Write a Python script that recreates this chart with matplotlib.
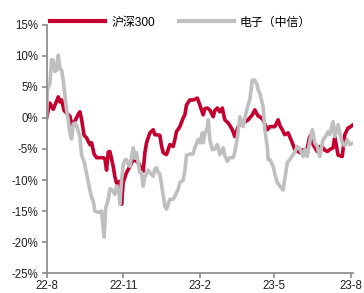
# 沪深300 与 电子（中信）累计涨跌幅走势
import datetime as dt

import matplotlib
matplotlib.use("Agg")
import matplotlib.pyplot as plt
import matplotlib.dates as mdates
from matplotlib.ticker import FuncFormatter, MultipleLocator

START = dt.date(2022, 8, 1)

# 沪深300：距 2022-08-01 的天数 与 累计涨跌幅（%）
hs300_days = [0, 4, 8, 14, 16, 18, 21, 24, 28, 30, 34, 38, 40, 42, 45, 48, 52, 54, 57, 60,
              64, 68, 70, 72, 74, 76, 80, 82, 84, 88, 90, 92, 96, 100, 104, 107, 110, 113,
              116, 118, 120, 124, 128, 130, 132, 136, 138, 140, 144, 148, 152, 154, 156,
              160, 164, 166, 168, 172, 176, 181, 184, 188, 190, 193, 196, 200, 202, 205,
              208, 211, 214, 218, 220, 223, 226, 230, 232, 236, 242, 247, 250, 254, 256,
              260, 265, 268, 274, 278, 280, 283, 286, 290, 295, 298, 302, 304, 308, 310,
              313, 316, 319, 320, 325, 328, 332, 334, 337, 340, 344, 346, 350, 355, 358,
              362, 364, 368]
hs300_vals = [0, 2.4, 1.4, 3.4, 2.6, 2.9, 1.2, 0.8, 0.3, -1.0, -0.5, 0.6, 1.0, -0.2, -2.8,
              -3.2, -4.3, -4.0, -5.8, -6.4, -6.4, -6.4, -6.6, -8.4, -5.5, -5.4, -7.8, -9.5,
              -10.5, -10.2, -13.9, -10.4, -8.8, -7.8, -6.7, -6.9, -7.2, -8.0, -8.6, -5.6,
              -4.0, -2.4, -1.9, -2.7, -2.7, -2.8, -4.5, -5.6, -5.9, -4.3, -4.6, -3.5, -2.2,
              -1.4, 0.0, 0.5, 2.1, 2.9, 2.9, 3.2, 2.1, 0.5, 1.5, 1.6, 1.3, 0.2, 1.2, 1.6,
              1.0, 1.6, -0.3, -0.8, -1.2, -1.9, -3.0, -1.4, -1.0, -0.8, -0.3, 0.5, 1.3,
              0.3, 0.2, -0.3, -1.9, -1.4, -1.4, -0.3, -1.2, -1.9, -2.7, -2.4, -4.0, -5.1,
              -5.4, -5.6, -5.1, -5.3, -4.8, -3.0, -2.5, -4.3, -5.4, -4.6, -4.8, -5.2, -5.4,
              -5.1, -4.8, -3.0, -6.0, -6.2, -2.7, -1.6, -1.5, -1.1]

# 电子（中信）
elec_days = [0, 1, 4, 6, 8, 10, 12, 14, 16, 18, 20, 22, 24, 26, 28, 30, 32, 34, 36, 40,
             42, 45, 48, 52, 54, 56, 58, 62, 64, 66, 69, 71, 74, 76, 78, 82, 84, 87, 88,
             90, 92, 94, 96, 98, 100, 104, 106, 108, 112, 114, 116, 118, 122, 124, 128,
             130, 132, 134, 136, 140, 142, 144, 148, 152, 154, 158, 160, 164, 166, 168,
             172, 176, 178, 182, 184, 187, 188, 190, 193, 194, 196, 199, 202, 205, 208,
             212, 214, 217, 220, 224, 226, 229, 232, 236, 238, 241, 244, 247, 250, 253,
             254, 256, 260, 262, 265, 266, 268, 272, 274, 277, 280, 284, 286, 289, 292,
             296, 298, 301, 304, 308, 310, 313, 316, 319, 320, 322, 325, 328, 332, 334,
             338, 340, 344, 346, 350, 352, 355, 358, 361, 364, 368]
elec_vals = [0, 4.5, 5.6, 9.4, 9.3, 7.5, 7.7, 10.1, 8.0, 7.7, 6.0, 3.6, 1.3, -0.3, -2.4,
             -3.4, -1.0, -0.8, -1.2, -3.0, -6.0, -7.0, -9.0, -11.6, -12.8, -13.4, -15.0,
             -15.2, -15.2, -15.0, -19.2, -14.5, -13.1, -11.4, -11.5, -12.3, -11.0, -12.0,
             -13.9, -10.0, -7.5, -6.8, -6.7, -7.5, -7.8, -4.8, -6.5, -5.6, -8.8, -8.8,
             -11.0, -9.5, -8.4, -8.8, -9.4, -8.2, -8.0, -8.8, -9.0, -12.5, -14.2, -14.7,
             -13.1, -13.1, -12.6, -11.5, -10.4, -10.0, -8.5, -6.0, -5.8, -5.8, -4.8, -3.5,
             -4.0, -2.4, -4.0, -2.5, -1.6, -0.3, -3.5, -5.1, -5.0, -4.3, -5.9, -4.8, -6.0,
             -7.0, -6.4, -6.4, -5.5, -3.2, 0.2, -1.4, 0.0, 1.6, 3.0, 6.1, 6.1, 5.3, 4.5,
             4.0, 1.8, -1.9, -4.6, -6.7, -6.7, -7.8, -9.0, -10.4, -11.0, -11.6, -9.9,
             -7.2, -6.7, -5.9, -5.5, -4.6, -5.0, -6.2, -5.0, -6.2, -3.8, -1.9, -2.5, -4.0,
             -4.6, -6.2, -3.5, -3.2, -2.2, -2.7, -0.6, -3.0, -1.1, -2.5, -4.0, -4.5, -3.5,
             -4.3, -4.0]

SERIES_NAMES = ["沪深300", "电子（中信）"]
X_TICKS = ["2022-08-01", "2022-11-01", "2023-02-01", "2023-05-01", "2023-08-01"]

RED = "#C40030"
GREY = "#BFBFBF"
AXIS_GREY = "#888888"


def to_dates(days):
    return [START + dt.timedelta(days=d) for d in days]


def main():
    plt.rcParams["font.family"] = ["Liberation Sans", "Noto Sans CJK SC", "DejaVu Sans"]
    fig = plt.figure(figsize=(3.64, 2.93), dpi=100)
    ax = fig.add_axes([0.128, 0.068, 0.842, 0.847])

    ax.plot(to_dates(hs300_days), hs300_vals, color=RED, lw=2.6, label=SERIES_NAMES[0],
            solid_joinstyle="round")
    ax.plot(to_dates(elec_days), elec_vals, color=GREY, lw=2.6, label=SERIES_NAMES[1],
            solid_joinstyle="round")

    ax.set_ylim(-25, 15)
    ax.yaxis.set_major_locator(MultipleLocator(5))
    ax.yaxis.set_major_formatter(FuncFormatter(lambda v, _: f"{v:.0f}%"))

    ticks = [dt.date.fromisoformat(s) for s in X_TICKS]
    ax.set_xlim(START, START + dt.timedelta(days=hs300_days[-1]))
    ax.set_xticks(ticks)
    ax.xaxis.set_major_formatter(mdates.DateFormatter("%y-%-m"))

    for side in ("top", "right"):
        ax.spines[side].set_visible(False)
    for side in ("left", "bottom"):
        ax.spines[side].set_color(AXIS_GREY)
        ax.spines[side].set_linewidth(1.2)
    ax.tick_params(axis="both", colors=AXIS_GREY, width=1.2, length=3.5, labelsize=8.3,
                   labelcolor="#222222", pad=2.5)
    ax.tick_params(axis="x", pad=1.2)

    leg = ax.legend(loc="lower left", bbox_to_anchor=(0.012, 0.985), ncol=2, frameon=False,
                    fontsize=8.6, handlelength=4.6, handletextpad=0.5, columnspacing=2.0,
                    borderaxespad=0, borderpad=0)
    for line in leg.get_lines():
        line.set_linewidth(3)

    fig.savefig("out.png", dpi=100)


if __name__ == "__main__":
    main()
